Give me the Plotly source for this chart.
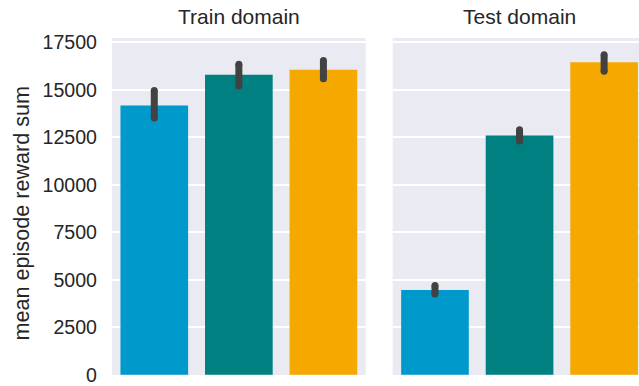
import plotly.graph_objects as go

# Bar means and error-bar extents per domain
methods = ["method A", "method B", "method C"]
colors = ["#0099CC", "#008080", "#F5A800"]

train_mean = [14172, 15800, 16064]
train_low = [13525, 15197, 15580]
train_high = [14965, 16353, 16548]

test_mean = [4467, 12596, 16448]
test_low = [4251, 12307, 15985]
test_high = [4703, 12901, 16842]

panel_titles = ["Train domain", "Test domain"]
y_ticks = [0, 2500, 5000, 7500, 10000, 12500, 15000, 17500]
y_tick_text = ["0", "2500", "5000", "7500", "10000", "12500", "15000", "17500"]
y_label = "mean episode reward sum"

W, H = 639, 386
M_L, M_R, M_T, M_B = 112, 0, 38, 9
plot_w = W - M_L - M_R
plot_h = H - M_T - M_B

left_dom = [0.0, (365.7 - M_L) / plot_w]
right_dom = [(392.7 - M_L) / plot_w, 1.0]
slot_px = (left_dom[1] - left_dom[0]) * plot_w / 3.0
right_hi = -0.5 + (right_dom[1] - right_dom[0]) * plot_w / slot_px

fig = go.Figure()

ERR_COLOR = "#424242"
for means, lows, highs, xa, ya in [
    (train_mean, train_low, train_high, "x", "y"),
    (test_mean, test_low, test_high, "x2", "y2"),
]:
    fig.add_trace(go.Bar(
        x=methods, y=means, marker=dict(color=colors, line=dict(width=0)),
        width=0.8, xaxis=xa, yaxis=ya, showlegend=False,
    ))
    for m, lo, hi in zip(methods, lows, highs):
        fig.add_trace(go.Scatter(
            x=[m, m], y=[lo, hi], mode="lines+markers",
            line=dict(color=ERR_COLOR, width=7),
            marker=dict(color=ERR_COLOR, size=7, line=dict(width=0)),
            xaxis=xa, yaxis=ya, showlegend=False, hoverinfo="skip",
        ))

FONT = "Liberation Sans, Arial, sans-serif"
tick_font = dict(family=FONT, size=19.6, color="#262626")
title_font = dict(family=FONT, size=21, color="#262626")
label_font = dict(family=FONT, size=21.6, color="#262626")

common_x = dict(type="category", showticklabels=False, ticks="", showgrid=False,
                zeroline=False, showline=False)
fig.update_layout(
    width=W, height=H,
    margin=dict(l=M_L, r=M_R, t=M_T, b=M_B),
    paper_bgcolor="white", plot_bgcolor="#EAEAF2",
    bargap=0.2,
    xaxis=dict(domain=left_dom, range=[-0.5, 2.5], **common_x),
    xaxis2=dict(domain=right_dom, range=[-0.5, right_hi], anchor="y2", **common_x),
    yaxis=dict(range=[-10, 17730], tickvals=y_ticks, ticktext=y_tick_text,
               tickfont=tick_font, ticklabeloverflow="allow",
               gridcolor="white", gridwidth=1.6, zeroline=False, showline=False,
               ticks="", ticklabelstandoff=14),
    yaxis2=dict(range=[-10, 17730], tickvals=y_ticks, showticklabels=False,
                gridcolor="white", gridwidth=1.6, zeroline=False, showline=False,
                ticks="", anchor="x2", matches="y"),
)

# Panel titles
full_w = left_dom[1] - left_dom[0]
for title, x0 in zip(panel_titles, [left_dom[0], right_dom[0]]):
    fig.add_annotation(
        text=title, xref="paper", yref="paper",
        x=x0 + full_w / 2, y=1 + (M_T - 16) / plot_h,
        xanchor="center", yanchor="middle", showarrow=False, font=title_font,
    )

# Y-axis label
fig.add_annotation(
    text=y_label, xref="paper", yref="paper", textangle=-90,
    x=-(M_L - 21) / plot_w, y=1 - (214.5 - M_T) / plot_h,
    xanchor="center", yanchor="middle", showarrow=False, font=label_font,
)

fig.write_html("out.html")
